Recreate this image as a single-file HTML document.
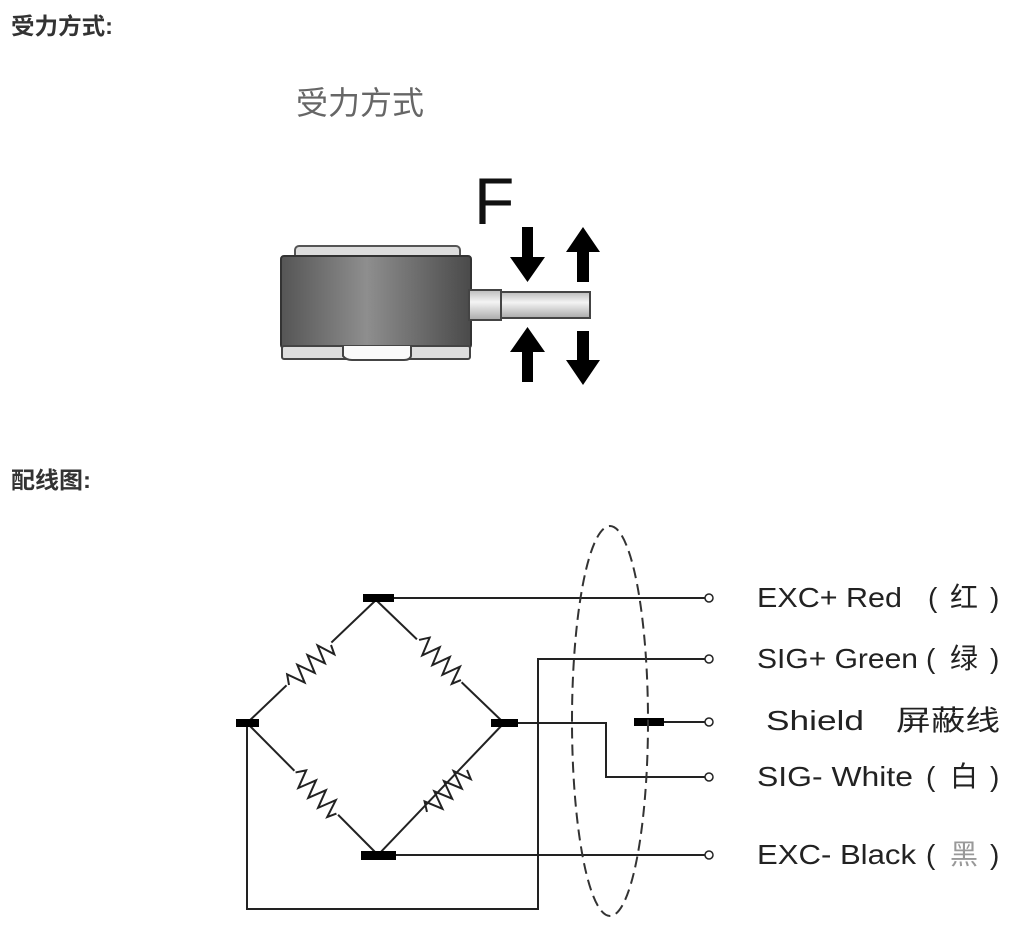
<!DOCTYPE html>
<html><head><meta charset="utf-8"><style>
html,body{margin:0;padding:0;background:#fff;width:1018px;height:928px;overflow:hidden}
svg{display:block}
</style></head><body>
<svg width="1018" height="928" viewBox="0 0 1018 928" xmlns="http://www.w3.org/2000/svg">
<defs>
<linearGradient id="body" x1="0" x2="1" y1="0" y2="0">
<stop offset="0" stop-color="#555"/><stop offset="0.45" stop-color="#8e8e8e"/><stop offset="1" stop-color="#4a4a4a"/>
</linearGradient>
<linearGradient id="rod" x1="0" x2="0" y1="0" y2="1">
<stop offset="0" stop-color="#bbb"/><stop offset="0.4" stop-color="#f4f4f4"/><stop offset="1" stop-color="#aaa"/>
</linearGradient>
<g id="res">
<line x1="-31" y1="0" x2="31" y2="0" stroke="#fff" stroke-width="6"/>
<polyline points="-29,0 -23,-9 -16,9 -9,-9 -2,9 5,-9 12,9 19,-9 25,9 29,0" fill="none" stroke="#222" stroke-width="2"/>
</g>
</defs>
<text x="11" y="34" font-family="Liberation Sans,'Noto Sans CJK SC',sans-serif" font-weight="bold" font-size="23" fill="#333" textLength="102" lengthAdjust="spacingAndGlyphs">受力方式:</text>
<text x="296" y="114" font-family="Liberation Sans,'Noto Sans CJK SC',sans-serif" font-size="32" fill="#666">受力方式</text>
<!-- load cell -->
<rect x="295" y="246" width="165" height="14" rx="4" fill="#ddd" stroke="#555" stroke-width="2"/>
<rect x="281" y="256" width="190" height="92" rx="3" fill="url(#body)" stroke="#333" stroke-width="2"/>
<rect x="282" y="346" width="188" height="13" rx="2" fill="#ddd" stroke="#444" stroke-width="2"/>
<path d="M343,346 L343,356 Q346,360 352,360 L404,360 Q410,360 411,356 L411,346" fill="#fafafa" stroke="#444" stroke-width="2"/>
<rect x="469" y="290" width="32" height="30" fill="url(#rod)" stroke="#444" stroke-width="2"/>
<rect x="501" y="292" width="89" height="26" fill="url(#rod)" stroke="#444" stroke-width="2"/>
<text x="474" y="224" font-family="Liberation Sans,sans-serif" font-size="66" fill="#111">F</text>
<polygon points="522,227 533,227 533,257 545,257 527.5,282 510,257 522,257" fill="#000"/>
<polygon points="577,282 589,282 589,252 600,252 583,227 566,252 577,252" fill="#000"/>
<polygon points="522,382 533,382 533,352 545,352 527.5,327 510,352 522,352" fill="#000"/>
<polygon points="577,331 589,331 589,360 600,360 583,385 566,360 577,360" fill="#000"/>
<text x="11" y="488" font-family="Liberation Sans,'Noto Sans CJK SC',sans-serif" font-weight="bold" font-size="23" fill="#333" textLength="80" lengthAdjust="spacingAndGlyphs">配线图:</text>
<!-- bridge -->
<g stroke="#222" stroke-width="2" fill="none">
<line x1="247" y1="723" x2="376" y2="600"/>
<line x1="376" y1="600" x2="504" y2="723"/>
<line x1="247" y1="723" x2="378" y2="855"/>
<line x1="378" y1="855" x2="504" y2="723"/>
<line x1="376" y1="598" x2="708" y2="598"/>
<polyline points="247,723 247,909 538,909 538,659 708,659"/>
<polyline points="504,723 606,723 606,777 708,777"/>
<line x1="648" y1="722" x2="708" y2="722"/>
<line x1="378" y1="855" x2="708" y2="855"/>
</g>
<use href="#res" transform="translate(310,665) rotate(-43.6)"/>
<use href="#res" transform="translate(440,660) rotate(43.8)"/>
<use href="#res" transform="translate(316,793) rotate(45.2)"/>
<use href="#res" transform="translate(447,791) rotate(-46.3)"/>
<rect x="363" y="594" width="31" height="8" fill="#000"/>
<rect x="236" y="719" width="23" height="8" fill="#000"/>
<rect x="491" y="719" width="27" height="8" fill="#000"/>
<rect x="361" y="851" width="35" height="9" fill="#000"/>
<rect x="634" y="718" width="30" height="8" fill="#000"/>
<ellipse cx="610" cy="721" rx="38" ry="195" fill="none" stroke="#333" stroke-width="2" stroke-dasharray="11,6"/>
<g fill="#fff" stroke="#222" stroke-width="1.5">
<circle cx="709" cy="598" r="4"/><circle cx="709" cy="659" r="4"/><circle cx="709" cy="722" r="4"/><circle cx="709" cy="777" r="4"/><circle cx="709" cy="855" r="4"/>
</g>
<g font-family="Liberation Sans,'Noto Sans CJK SC',sans-serif" font-size="28" fill="#222">
<text x="757" y="607" textLength="145" lengthAdjust="spacingAndGlyphs">EXC+ Red</text>
<text x="757" y="668" textLength="161" lengthAdjust="spacingAndGlyphs">SIG+ Green</text>
<text x="766" y="730" textLength="98" lengthAdjust="spacingAndGlyphs">Shield</text>
<text x="757" y="786" textLength="156" lengthAdjust="spacingAndGlyphs">SIG- White</text>
<text x="757" y="864" textLength="159" lengthAdjust="spacingAndGlyphs">EXC- Black</text>
<text x="928" y="607">(</text><text x="950" y="607">红</text><text x="990" y="607">)</text>
<text x="926" y="668">(</text><text x="950" y="668">绿</text><text x="990" y="668">)</text>
<text x="896" y="730" textLength="104" lengthAdjust="spacingAndGlyphs">屏蔽线</text>
<text x="926" y="786">(</text><text x="950" y="786">白</text><text x="990" y="786">)</text>
<text x="926" y="864">(</text><text x="950" y="864" fill="#999">黑</text><text x="990" y="864">)</text>
</g>
</svg>
</body></html>
